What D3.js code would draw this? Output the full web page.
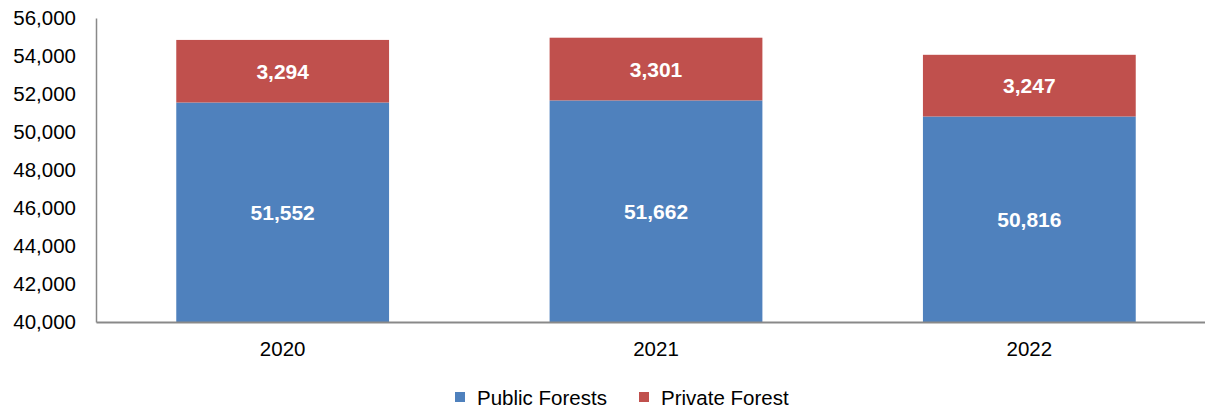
<!doctype html>
<head>
    <meta charset="utf-8">
    <title>Forests</title>
    <script src="https://d3js.org/d3.v7.min.js"></script>
    <style>
        body {margin:0; background:#fff;}
        svg {display:block;}
        text {font-family:"Liberation Sans", Arial, sans-serif; fill:#000;}
        .axis path, .axis line {stroke:#898989;}
    </style>
</head>
<body>
    <script>
        "use strict";
        var years = ["2020", "2021", "2022"];
        var publicForests = [51552, 51662, 50816];
        var privateForest = [3294, 3301, 3247];
        var seriesNames = ["Public Forests", "Private Forest"];
        var colors = ["#4F81BD", "#C0504D"];
        var yTicks = [40000, 42000, 44000, 46000, 48000, 50000, 52000, 54000, 56000];

        var width = 1205, height = 409;
        var m = {left: 96, top: 18, bottom: 87};

        var svg = d3.select("body").append("svg")
            .attr("width", width).attr("height", height);

        var x = d3.scaleBand().domain(years)
            .range([m.left, 1216]).paddingInner(0.43).paddingOuter(0.215);
        var y = d3.scaleLinear().domain([40000, 56000])
            .range([height - m.bottom, m.top]);

        var rows = years.map(function(yr, i) {
            return {year: yr, pub: publicForests[i], priv: privateForest[i]};
        });

        // y axis
        var yAxis = svg.append("g").attr("class", "axis")
            .attr("transform", "translate(" + m.left + ",0)")
            .call(d3.axisLeft(y).tickValues(yTicks).tickSize(0).tickPadding(20)
                .tickFormat(d3.format(",")));
        yAxis.selectAll("text").style("font-size", "20.5px");
        yAxis.select(".domain").attr("stroke-width", 1.5);

        // bars
        var g = svg.append("g");
        g.selectAll(".pub").data(rows).enter().append("rect")
            .attr("x", function(d) { return x(d.year); })
            .attr("width", x.bandwidth())
            .attr("y", function(d) { return y(d.pub); })
            .attr("height", function(d) { return y(40000) - y(d.pub); })
            .attr("fill", colors[0]);
        g.selectAll(".priv").data(rows).enter().append("rect")
            .attr("x", function(d) { return x(d.year); })
            .attr("width", x.bandwidth())
            .attr("y", function(d) { return y(d.pub + d.priv); })
            .attr("height", function(d) { return y(d.pub) - y(d.pub + d.priv); })
            .attr("fill", colors[1]);

        // bar labels
        var fmt = d3.format(",");
        g.selectAll(".lp").data(rows).enter().append("text")
            .attr("x", function(d) { return x(d.year) + x.bandwidth() / 2; })
            .attr("y", function(d) { return (y(40000) + y(d.pub)) / 2 + 7.5; })
            .attr("text-anchor", "middle")
            .style("font-size", "21px").style("font-weight", "bold").style("fill", "#fff")
            .text(function(d) { return fmt(d.pub); });
        g.selectAll(".lq").data(rows).enter().append("text")
            .attr("x", function(d) { return x(d.year) + x.bandwidth() / 2; })
            .attr("y", function(d) { return (y(d.pub) + y(d.pub + d.priv)) / 2 + 7.5; })
            .attr("text-anchor", "middle")
            .style("font-size", "21px").style("font-weight", "bold").style("fill", "#fff")
            .text(function(d) { return fmt(d.priv); });

        // x axis
        var xAxis = svg.append("g").attr("class", "axis")
            .attr("transform", "translate(0," + y(40000) + ")")
            .call(d3.axisBottom(x).tickSize(0).tickPadding(19));
        xAxis.selectAll("text").style("font-size", "20.5px");
        xAxis.select(".domain").attr("stroke-width", 2);

        // legend
        var legendX = [455, 639];
        var leg = svg.append("g").selectAll("g").data(seriesNames).enter().append("g")
            .attr("transform", function(d, i) { return "translate(" + legendX[i] + ",397)"; });
        leg.append("rect").attr("x", 0).attr("y", -5).attr("width", 10).attr("height", 10)
            .attr("fill", function(d, i) { return colors[i]; });
        leg.append("text").attr("x", 22).attr("y", 7.5)
            .style("font-size", "20.5px")
            .text(function(d) { return d; });
    </script>
</body>
</html>
